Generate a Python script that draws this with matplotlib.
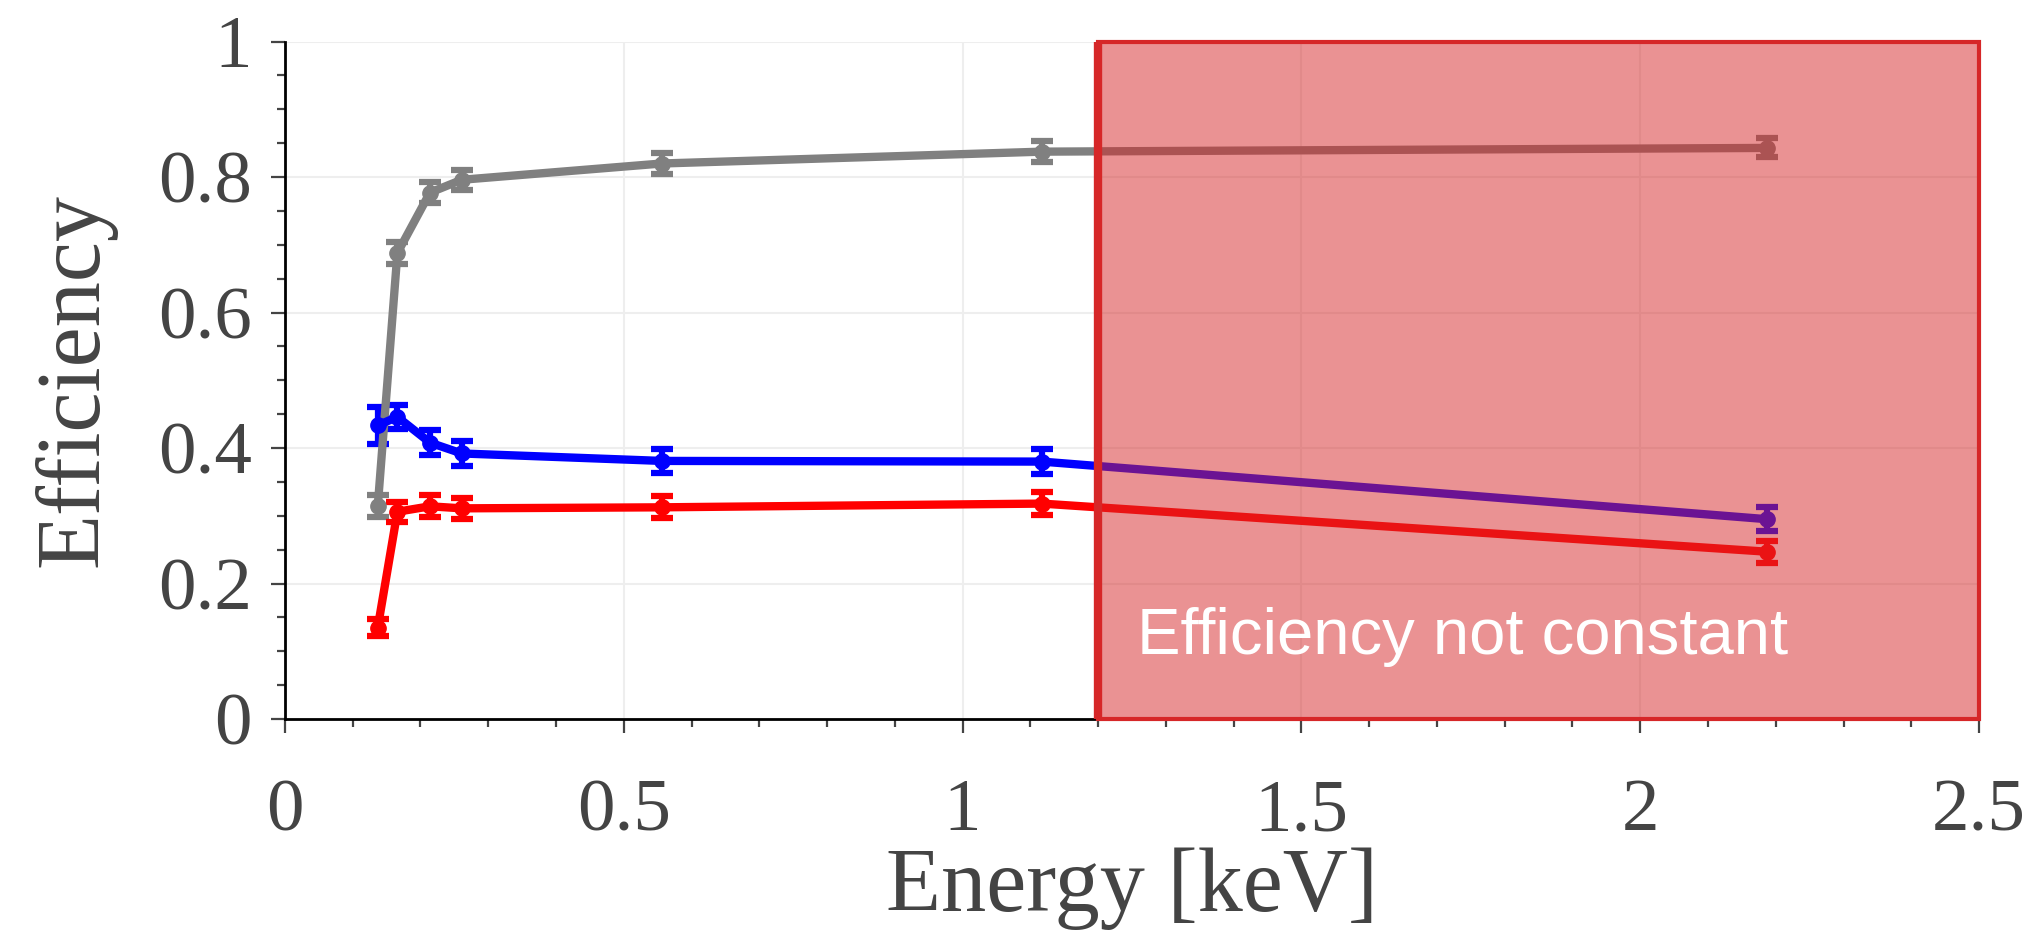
import matplotlib
matplotlib.use("Agg")
import matplotlib.pyplot as plt
from matplotlib.patches import Rectangle
from matplotlib.ticker import MultipleLocator

# energies in keV, same for all three curves
energy = [0.137, 0.166, 0.214, 0.261, 0.556, 1.117, 2.187]

eff_gray = [0.314, 0.688, 0.777, 0.796, 0.820, 0.8375, 0.843]
err_gray = [0.016, 0.016, 0.015, 0.015, 0.015, 0.015, 0.014]

eff_blue = [0.4335, 0.446, 0.408, 0.392, 0.381, 0.380, 0.295]
err_blue = [0.027, 0.018, 0.019, 0.018, 0.018, 0.018, 0.018]

eff_red = [0.135, 0.306, 0.314, 0.311, 0.3125, 0.318, 0.247]
err_red = [0.012, 0.015, 0.016, 0.016, 0.016, 0.017, 0.016]

band_start, band_end = 1.2, 2.5
band_text = "Efficiency not constant"

x_ticks = [0, 0.5, 1, 1.5, 2, 2.5]
x_ticklabels = ["0", "0.5", "1", "1.5", "2", "2.5"]
y_ticks = [0, 0.2, 0.4, 0.6, 0.8, 1.0]
y_ticklabels = ["0", "0.2", "0.4", "0.6", "0.8", "1"]

TXT = "#444444"
SERIF = ["Liberation Serif", "DejaVu Serif"]

fig = plt.figure(figsize=(20.38, 9.36), dpi=100)
ax = fig.add_axes([0.1398, 0.2318, 0.8313, 0.7238])

style = dict(lw=6, marker="o", ms=11, capsize=8, capthick=4.5, elinewidth=4.5, zorder=3)
ax.errorbar(energy, eff_gray, yerr=err_gray, color="#808080", **style)
ax.errorbar(energy, eff_blue, yerr=err_blue, color="#0000ff", **style)
ax.errorbar(energy, eff_red, yerr=err_red, color="#ff0000", **style)

# shaded region drawn on top of the curves
ax.add_patch(Rectangle((band_start, 0), band_end - band_start, 1.0,
                       facecolor=(214 / 255, 39 / 255, 40 / 255, 0.5),
                       edgecolor="#d62728", lw=3, zorder=5, clip_on=False))
ax.axvline(band_start, color="#d62728", lw=6, zorder=6)
ax.text(1.257, 0.096, band_text, color="white", fontsize=47,
        family=["Liberation Sans", "DejaVu Sans"], va="baseline", ha="left", zorder=7)

ax.set_xlim(0, 2.5)
ax.set_ylim(0, 1)
ax.set_xticks(x_ticks)
ax.set_xticklabels(x_ticklabels)
ax.set_yticks(y_ticks)
ax.set_yticklabels(y_ticklabels)
ax.xaxis.set_minor_locator(MultipleLocator(0.1))
ax.yaxis.set_minor_locator(MultipleLocator(0.05))
ax.grid(True, which="major", color="#eeeeee", lw=1.5, zorder=0)
ax.set_axisbelow(True)

for s in ("top", "right"):
    ax.spines[s].set_visible(False)
for s in ("left", "bottom"):
    ax.spines[s].set_linewidth(2)
    ax.spines[s].set_color("black")

ax.tick_params(which="major", direction="out", length=10, width=1.6, color=TXT,
               labelsize=54, labelcolor=TXT)
ax.tick_params(which="minor", direction="out", length=6, width=1.6, color=TXT)
ax.tick_params(axis="x", which="major", pad=33)
ax.tick_params(axis="y", which="major", pad=14)
for lab in ax.get_xticklabels() + ax.get_yticklabels():
    lab.set_family(SERIF)

# mirrored top labels, mostly outside the canvas
top = ax.secondary_xaxis("top")
top.set_xticks(x_ticks)
top.set_xticklabels(x_ticklabels)
top.spines["top"].set_visible(False)
top.tick_params(length=0, pad=20.5, labelsize=54, labelcolor=TXT)
for lab in top.get_xticklabels():
    lab.set_family(SERIF)

ax.set_xlabel("Energy [keV]", fontsize=65, color=TXT, family=SERIF)
ax.set_ylabel("Efficiency", fontsize=65, color=TXT, family=SERIF)
ax.xaxis.set_label_coords(0.5, -0.19)
ax.yaxis.set_label_coords(-0.0992, 0.5)

fig.savefig("out.png", dpi=100)
